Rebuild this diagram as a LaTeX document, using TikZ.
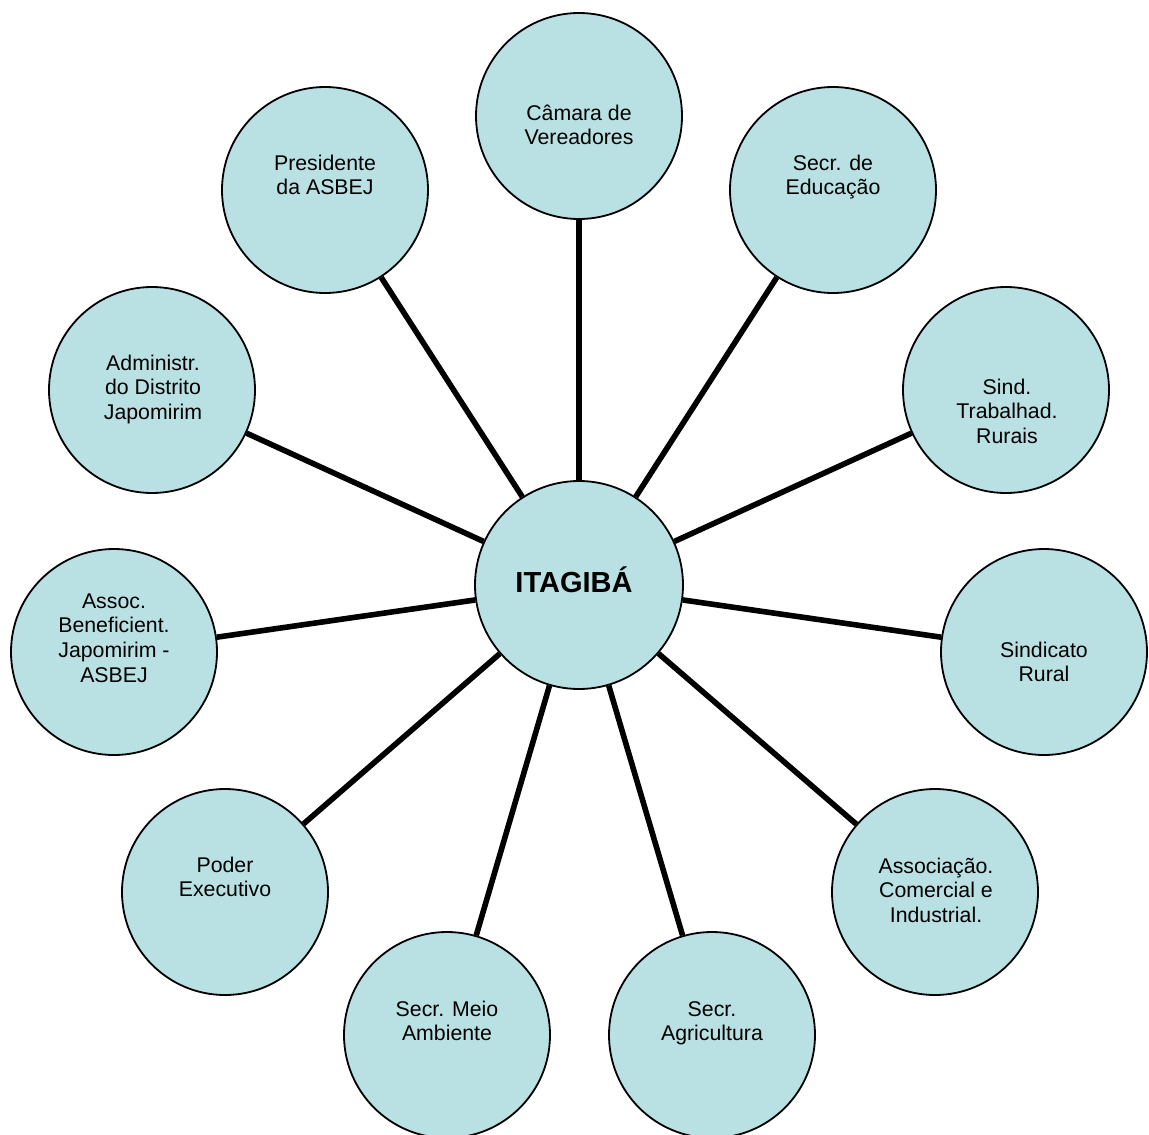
\documentclass[tikz,border=0pt]{standalone}
\usepackage{fontspec}
\setmainfont{Liberation Sans}
\definecolor{bubblefill}{HTML}{B9E0E2}
\newcommand\lnstrut{\rule{0pt}{20pt}}
\begin{document}
\begin{tikzpicture}[x=1pt,y=-1pt,
  bubble/.style={circle, draw=black, line width=1.8pt, fill=bubblefill, minimum size=206pt, inner sep=0pt},
  hub/.style={bubble, minimum size=208pt},
  lbl/.style={anchor=north, inner sep=0pt, align=center, font=\fontsize{21.3}{24.6}\selectfont},
  hublbl/.style={anchor=base, inner sep=0pt, font=\fontsize{29}{34}\selectfont\bfseries},
  spoke/.style={line width=5.6pt}]
\useasboundingbox[fill=white] (0,0) rectangle (1149,1135);

\node[hub]    (ctr)  at (579,585) {};
\node[bubble] (cam)  at (579,116) {};
\node[bubble] (edu)  at (833,190) {};
\node[bubble] (sind) at (1006,390) {};
\node[bubble] (srur) at (1044,652) {};
\node[bubble] (aci)  at (935,892) {};
\node[bubble] (agr)  at (712,1035) {};
\node[bubble] (mam)  at (447,1035) {};
\node[bubble] (pex)  at (225,892) {};
\node[bubble] (asb)  at (114,652) {};
\node[bubble] (adm)  at (152,390) {};
\node[bubble] (pre)  at (325,190) {};

\foreach \n in {cam,edu,sind,srur,aci,agr,mam,pex,asb,adm,pre}
  \draw[spoke] (ctr) -- (\n);

\node[hublbl] (ctrT) at (574,592) {ITAGIBÁ};
\node[lbl] (camT)  at (579,100)  {\lnstrut Câmara de\\Vereadores};
\node[lbl] (eduT)  at (833,150)  {\lnstrut Secr. de\\Educação};
\node[lbl] (sindT) at (1007,374) {\lnstrut Sind.\\Trabalhad.\\Rurais};
\node[lbl] (srurT) at (1044,637) {\lnstrut Sindicato\\Rural};
\node[lbl] (aciT)  at (936,853)  {\lnstrut Associação.\\Comercial e\\Industrial.};
\node[lbl] (agrT)  at (712,996)  {\lnstrut Secr.\\Agricultura};
\node[lbl] (mamT)  at (447,996)  {\lnstrut Secr. Meio\\Ambiente};
\node[lbl] (pexT)  at (225,852)  {\lnstrut Poder\\Executivo};
\node[lbl] (asbT)  at (114,588)  {\lnstrut Assoc.\\Beneficient.\\Japomirim -\\ASBEJ};
\node[lbl] (admT)  at (153,350)  {\lnstrut Administr.\\do Distrito\\Japomirim};
\node[lbl] (preT)  at (325,150)  {\lnstrut Presidente\\da ASBEJ};
\end{tikzpicture}
\end{document}
